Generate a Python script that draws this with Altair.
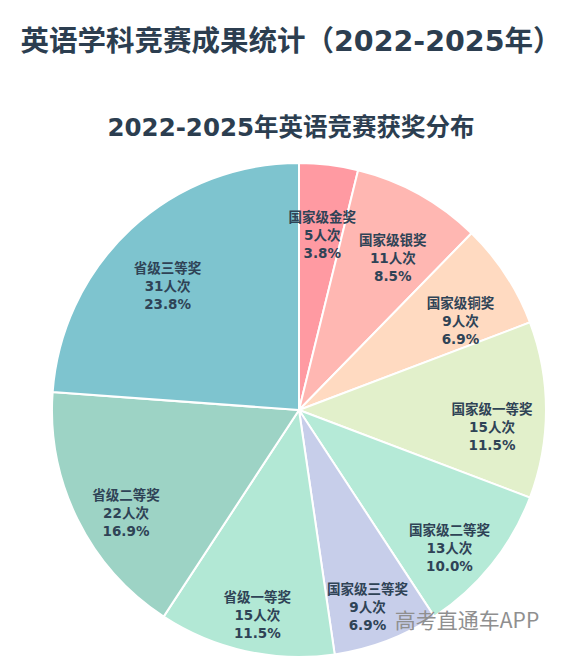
import altair as alt
import pandas as pd

categories = ["国家级金奖", "国家级银奖", "国家级铜奖", "国家级一等奖", "国家级二等奖",
              "国家级三等奖", "省级一等奖", "省级二等奖", "省级三等奖"]
counts = [5, 11, 9, 15, 13, 9, 15, 22, 31]
colors = ["#FF9AA2", "#FFB7B2", "#FFDAC1", "#E2F0CB", "#B5EAD7",
          "#C7CEEA", "#B2E8D5", "#9DD3C5", "#7EC4CF"]

total = sum(counts)
df = pd.DataFrame({
    "idx": list(range(len(categories))),
    "category": categories,
    "count": counts,
})
df["label"] = [f"{c}\n{n}人次\n{n / total * 100:.1f}%" for c, n in zip(categories, counts)]

FONT = "DejaVu Sans, Noto Sans CJK SC"

base = alt.Chart(df).encode(
    theta=alt.Theta("count:Q", stack=True),
    order=alt.Order("idx:Q"),
)

arcs = base.mark_arc(radius=247, stroke="white", strokeWidth=2).encode(
    color=alt.Color("category:N", scale=alt.Scale(domain=categories, range=colors), legend=None)
)

labels = base.mark_text(
    radius=193, fontSize=13.5, fontWeight="bold", lineBreak="\n",
    lineHeight=18, color="#2f4356", font=FONT
).encode(text="label:N")

wm = alt.Chart(pd.DataFrame({"t": ["高考直通车APP"]})).mark_text(
    fontSize=21, color="#8f8f8f", font="Noto Sans CJK SC", align="center"
).encode(text="t:N", x=alt.value(440), y=alt.value(458))

chart = alt.layer(arcs, labels, wm).properties(
    width=544, height=492,
    autosize=alt.AutoSizeParams(type="none"),
    padding={"left": 27, "top": 164, "right": 0, "bottom": 4},
    title=alt.TitleParams(
        text="英语学科竞赛成果统计（2022-2025年）",
        subtitle="2022-2025年英语竞赛获奖分布",
        font=FONT, fontSize=28.5, fontWeight="bold", color="#2c3e50",
        subtitleFont=FONT, subtitleFontSize=24.5, subtitleFontWeight="bold",
        subtitleColor="#2c3e50", subtitlePadding=60, offset=19,
        anchor="middle", dx=-8,
    ),
).configure_view(stroke=None)

chart.save("out.html", embed_options={"renderer": "svg", "actions": False})
